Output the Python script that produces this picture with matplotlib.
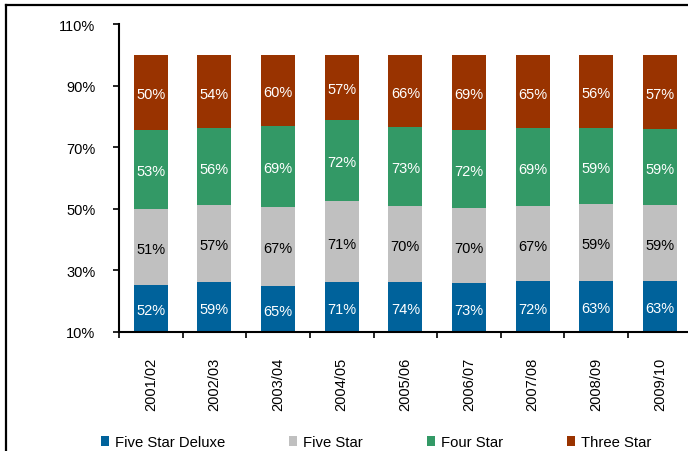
import matplotlib
matplotlib.use("Agg")
import matplotlib.pyplot as plt
import numpy as np
from matplotlib.lines import Line2D

plt.rcParams['font.family'] = ['Liberation Sans', 'DejaVu Sans']

years = ["2001/02", "2002/03", "2003/04", "2004/05", "2005/06",
         "2006/07", "2007/08", "2008/09", "2009/10"]
series_names = ["Five Star Deluxe", "Five Star", "Four Star", "Three Star"]
five_star_deluxe = [52, 59, 65, 71, 74, 73, 72, 63, 63]
five_star = [51, 57, 67, 71, 70, 70, 67, 59, 59]
four_star = [53, 56, 69, 72, 73, 72, 69, 59, 59]
three_star = [50, 54, 60, 57, 66, 69, 65, 56, 57]
yticks = [10, 30, 50, 70, 90, 110]

colors = ["#00629B", "#C0C0C0", "#339966", "#993300"]
label_colors = ["white", "black", "white", "white"]

data = np.array([five_star_deluxe, five_star, four_star, three_star], dtype=float)
shares = data / data.sum(axis=0) * 100.0

fig = plt.figure(figsize=(6.88, 4.52), dpi=100)
ax = fig.add_axes([0.1730, 0.2639, 0.8323, 0.6803])

x = np.arange(len(years))
bottom = np.zeros(len(years))
ymin = 10
for i, name in enumerate(series_names):
    ax.bar(x, shares[i], width=0.535, bottom=bottom, color=colors[i],
           label=name, linewidth=0, zorder=2)
    for j in range(len(years)):
        lo = max(bottom[j], ymin)
        hi = bottom[j] + shares[i][j]
        yc = (lo + hi) / 2
        ax.annotate(f"{int(data[i][j])}%", (x[j], yc), xytext=(0, -2),
                    textcoords="offset pixels", ha="center", va="center",
                    color=label_colors[i], fontsize=10.5, zorder=3)
    bottom = bottom + shares[i]

ax.set_xlim(-0.5, len(years) - 0.5)
ax.set_ylim(10, 110)
ax.set_yticks(yticks)
ax.set_yticklabels([f"{v}%" for v in yticks], fontsize=10.5)
ax.tick_params(axis='y', direction='out', length=4, width=1.2, pad=13)

ax.set_xticks(np.arange(len(years) + 1) - 0.5)
ax.set_xticklabels([])
ax.tick_params(axis='x', which='major', direction='out', length=4, width=1.2)
ax.set_xticks(x, minor=True)
ax.set_xticklabels(years, minor=True, rotation=90, fontsize=10.5, va='top')
ax.tick_params(axis='x', which='minor', length=0, pad=18)

for s in ['top', 'right']:
    ax.spines[s].set_visible(False)
ax.spines['left'].set_linewidth(1.5)
ax.spines['bottom'].set_linewidth(1.5)
ax.spines['bottom'].set_zorder(4)

leg = fig.legend(loc='center', bbox_to_anchor=(376 / 688, 1 - 443 / 452),
                 ncol=4, frameon=False, fontsize=10.7,
                 handlelength=0.55, handleheight=0.65, handletextpad=0.4,
                 columnspacing=4.3, borderpad=0)

# page frame lines
fig.add_artist(Line2D([6 / 688, 6 / 688], [0, 1 - 6 / 452], color='black',
                      linewidth=1.6, transform=fig.transFigure))
fig.add_artist(Line2D([6 / 688, 1], [1 - 6 / 452, 1 - 6 / 452], color='black',
                      linewidth=1.6, transform=fig.transFigure))

fig.savefig("out.png", dpi=100)
